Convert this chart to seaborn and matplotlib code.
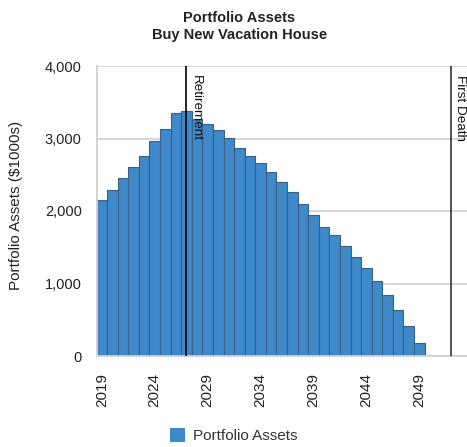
import matplotlib
matplotlib.use("Agg")
import matplotlib.pyplot as plt
import seaborn as sns
import pandas as pd
from matplotlib.patches import Patch

years = list(range(2019, 2050))
assets = [2152, 2294, 2455, 2611, 2763, 2960, 3133, 3345, 3379, 3270,
          3204, 3113, 3011, 2869, 2765, 2664, 2538, 2398, 2260, 2101,
          1945, 1786, 1669, 1522, 1370, 1209, 1039, 846, 634, 414, 184]
events = ["Retirement", "First Death"]
event_years = [2027, 2052]
y_ticks = [0, 1000, 2000, 3000, 4000]
x_ticks = [2019, 2024, 2029, 2034, 2039, 2044, 2049]

sns.set_theme(style="white")
plt.rcParams['font.family'] = ['Liberation Sans', 'DejaVu Sans']

df = pd.DataFrame({"Year": years, "Assets": assets})

fig = plt.figure(figsize=(4.67, 4.47), dpi=100)
ax = fig.add_axes([97/467, 1-356/447, (467-97)/467, (356-66)/447])

bar_color = "#3f88c9"
sns.barplot(data=df, x="Year", y="Assets", native_scale=True, width=1.0,
            color=bar_color, edgecolor="#3b5f7e", linewidth=0.8,
            saturation=1, ax=ax, zorder=2)

ax.set_xlim(2018.55, 2053.5)
ax.set_ylim(0, 4000)
ax.set_yticks(y_ticks)
ax.set_yticklabels([f"{v:,}" for v in y_ticks], fontsize=10.5, color="#222222")
ax.set_xticks(x_ticks)
ax.set_xticklabels([str(x) for x in x_ticks], rotation=90, fontsize=11, color="#222222")
ax.grid(axis="y", color="#d3d3d3", linewidth=1.3, zorder=0)
ax.grid(axis="x", visible=False)
ax.tick_params(axis="both", which="both", length=5, color="#c8d4e3", width=1)
ax.tick_params(axis="y", pad=6)
ax.tick_params(axis="x", pad=7)
for s in ["top", "right"]:
    ax.spines[s].set_visible(False)
ax.spines["left"].set_color("#d0d0d0")
ax.spines["left"].set_linewidth(1.3)
ax.spines["bottom"].set_color("#d0d0d0")
ax.spines["bottom"].set_linewidth(1.3)

ax.set_xlabel("")
ax.set_ylabel("Portfolio Assets ($1000s)", fontsize=11, color="#222222")
ax.yaxis.set_label_coords(-0.2, 0.52)

for name, yr, col in zip(events, event_years, ["#000000", "#333333"]):
    ax.axvline(yr, color=col, linewidth=1.2, zorder=3)
    ax.text(yr + 0.3, 3880, name, rotation=-90, va="top", ha="left",
            fontsize=9.7, color="#111111", zorder=4)

fig.suptitle("Portfolio Assets\nBuy New Vacation House", fontsize=10.5, fontweight="bold",
             x=0.512, y=0.975, color="#222222", linespacing=1.3)

handles = [Patch(facecolor=bar_color, edgecolor="none")]
fig.legend(handles, ["Portfolio Assets"], loc="center", bbox_to_anchor=(0.5, 0.025),
           frameon=False, fontsize=11, handlelength=1.0, handleheight=1.0,
           handletextpad=0.5, labelcolor="#333333")

fig.savefig("out.png", dpi=100)
